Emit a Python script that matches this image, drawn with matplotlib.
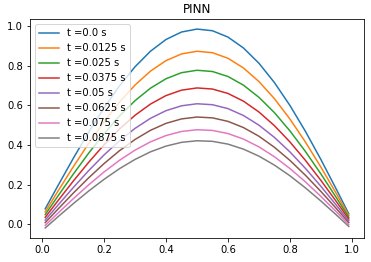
import matplotlib
matplotlib.use("Agg")
import matplotlib.pyplot as plt

x = [0.01, 0.05, 0.10, 0.15, 0.20, 0.25, 0.30, 0.35, 0.40, 0.45, 0.50,
     0.55, 0.60, 0.65, 0.70, 0.75, 0.80, 0.85, 0.90, 0.95, 0.99]

times = [0.0, 0.0125, 0.025, 0.0375, 0.05, 0.0625, 0.075, 0.0875]

u_t0 = [0.0772, 0.1912, 0.3306, 0.4637, 0.5872, 0.6984, 0.7946, 0.8733, 0.9323, 0.9699, 0.9848,
        0.9763, 0.9443, 0.8893, 0.8122, 0.7146, 0.5992, 0.4685, 0.3262, 0.1756, 0.0520]
u_t1 = [0.0620, 0.1637, 0.2880, 0.4069, 0.5172, 0.6165, 0.7024, 0.7727, 0.8255, 0.8593, 0.8728,
        0.8655, 0.8373, 0.7883, 0.7198, 0.6333, 0.5306, 0.4145, 0.2878, 0.1539, 0.0440]
u_t2 = [0.0481, 0.1395, 0.2512, 0.3579, 0.4570, 0.5463, 0.6234, 0.6867, 0.7341, 0.7646, 0.7768,
        0.7705, 0.7453, 0.7016, 0.6402, 0.5628, 0.4708, 0.3668, 0.2534, 0.1334, 0.0350]
u_t3 = [0.0342, 0.1161, 0.2162, 0.3117, 0.4006, 0.4806, 0.5497, 0.6064, 0.6491, 0.6764, 0.6876,
        0.6820, 0.6597, 0.6208, 0.5661, 0.4970, 0.4150, 0.3221, 0.2208, 0.1137, 0.0258]
u_t4 = [0.0204, 0.0938, 0.1838, 0.2696, 0.3494, 0.4212, 0.4834, 0.5344, 0.5729, 0.5974, 0.6077,
        0.6029, 0.5831, 0.5484, 0.4996, 0.4378, 0.3646, 0.2816, 0.1910, 0.0952, 0.0166]
u_t5 = [0.0075, 0.0740, 0.1556, 0.2334, 0.3058, 0.3710, 0.4275, 0.4738, 0.5088, 0.5312, 0.5407,
        0.5365, 0.5188, 0.4875, 0.4437, 0.3879, 0.3218, 0.2467, 0.1650, 0.0785, 0.0075]
u_t6 = [-0.0065, 0.0538, 0.1275, 0.1980, 0.2635, 0.3225, 0.3736, 0.4156, 0.4473, 0.4679, 0.4766,
        0.4731, 0.4573, 0.4294, 0.3900, 0.3401, 0.2807, 0.2134, 0.1399, 0.0622, -0.0015]
u_t7 = [-0.0193, 0.0356, 0.1026, 0.1668, 0.2263, 0.2802, 0.3267, 0.3651, 0.3940, 0.4129, 0.4209,
        0.4180, 0.4039, 0.3786, 0.3432, 0.2979, 0.2442, 0.1831, 0.1167, 0.0463, -0.0116]

curves = [u_t0, u_t1, u_t2, u_t3, u_t4, u_t5, u_t6, u_t7]

fig = plt.figure(figsize=(371 / 72, 262 / 72), dpi=72)
ax = fig.add_axes([0.081, 0.092, 0.900, 0.835])

for t, u in zip(times, curves):
    ax.plot(x, u, label='t =' + str(t) + ' s')

ax.set_title("PINN")
ax.legend(loc='upper left')

fig.savefig("out.png", dpi=72)
